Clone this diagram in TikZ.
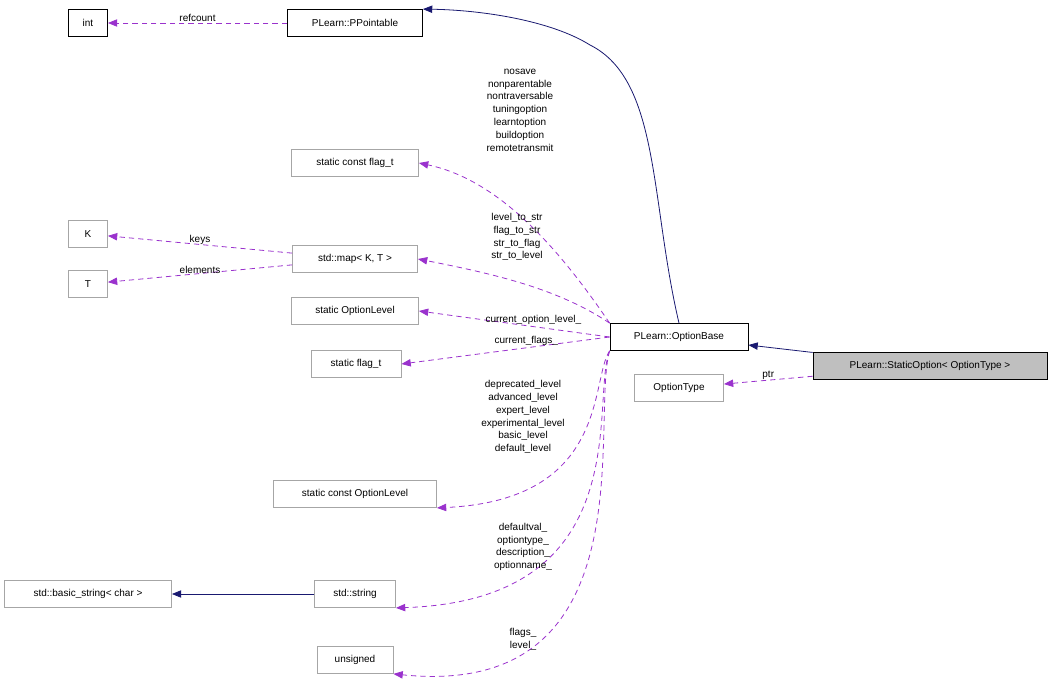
\documentclass[tikz,border=0pt]{standalone}
\usepackage{fontspec}
\setmainfont{Liberation Sans}
\usetikzlibrary{arrows.meta}
\definecolor{navy}{HTML}{191970}
\definecolor{purp}{HTML}{9A32CD}
\begin{document}
\begin{tikzpicture}[x=0.75pt,y=-0.75pt,
 every node/.style={font=\fontsize{7.5}{9}\selectfont},
 box/.style={draw=black,line width=0.6pt,minimum height=20.25pt,inner sep=0pt,fill=white},
 gbox/.style={box,draw=gray!70},
 inh/.style={draw=navy,line width=0.6pt,-{Triangle[length=7pt,width=5.5pt]}},
 use/.style={draw=purp,line width=0.6pt,dash pattern=on 4pt off 3pt,-{Triangle[length=7pt,width=5.5pt]}},
 lab/.style={align=center,inner sep=0pt,font=\fontsize{7.5}{9.6}\selectfont}]
\useasboundingbox (0,0) rectangle (1053,695);
\node[box,minimum width=29.25pt] (int) at (88,23) {int};
\node[box,minimum width=101.25pt] (pp) at (355,23) {PLearn::PPointable};
\node[gbox,minimum width=95.25pt] (scf) at (355,163) {static const flag\_t};
\node[gbox,minimum width=29.25pt] (K) at (88,234) {K};
\node[gbox,minimum width=93.75pt] (map) at (355,259) {std::map< K, T >};
\node[gbox,minimum width=29.25pt] (T) at (88,284) {T};
\node[gbox,minimum width=95.25pt] (sol) at (355,311) {static OptionLevel};
\node[box,minimum width=103.5pt] (ob) at (679,337) {PLearn::OptionBase};
\node[gbox,minimum width=67.5pt] (sf) at (356,364) {static flag\_t};
\node[box,fill=gray!50,minimum width=175.5pt] (so) at (930,366) {PLearn::StaticOption< OptionType >};
\node[gbox,minimum width=66.75pt] (ot) at (679,388) {OptionType};
\node[gbox,minimum width=122.25pt] (scol) at (355,494) {static const OptionLevel};
\node[gbox,minimum width=125.25pt] (bs) at (88,594) {std::basic\_string< char >};
\node[gbox,minimum width=60.75pt] (str) at (355,594) {std::string};
\node[gbox,minimum width=57pt] (uns) at (355,660) {unsigned};

\draw[use] (pp) -- (int) node[lab,midway,above=1pt] {refcount};
\draw[inh] (ob.north) .. controls (650,200) and (660,80) .. (590,45) .. controls (550,20) and (480,10) .. (pp.north east);
\draw[use] (ob.north west) .. controls (560,250) and (500,180) .. (scf.east);
\node[lab] at (520,110) {nosave\\nonparentable\\nontraversable\\tuningoption\\learntoption\\buildoption\\remotetransmit};
\draw[use] (map) -- (K) node[lab,midway,above=0pt] {keys};
\draw[use] (map) -- (T) node[lab,midway,above=0pt] {elements};
\draw[use] (ob.north west) .. controls (560,290) and (500,275) .. (map.east);
\node[lab] at (517,237) {level\_to\_str\\flag\_to\_str\\str\_to\_flag\\str\_to\_level};
\draw[use] (ob.west) -- (sol.east) node[lab,pos=0.4,above=1pt] {current\_option\_level\_};
\draw[use] (ob.west) -- (sf.east) node[lab,pos=0.4,above=1pt] {current\_flags\_};
\draw[inh] (so) -- (ob);
\draw[use] (so) -- (ot) node[lab,midway,above=0pt] {ptr};
\draw[use] (ob.south west) .. controls (590,380) and (610,500) .. (scol.south east);
\node[lab] at (523,417) {deprecated\_level\\advanced\_level\\expert\_level\\experimental\_level\\basic\_level\\default\_level};
\draw[use] (ob.south west) .. controls (590,400) and (640,600) .. (str.south east);
\node[lab] at (523,547) {defaultval\_\\optiontype\_\\description\_\\optionname\_};
\draw[inh] (str) -- (bs);
\draw[use] (ob.south west) .. controls (590,420) and (650,700) .. (uns.south east);
\node[lab] at (523,639) {flags\_\\level\_};
\end{tikzpicture}
\end{document}
